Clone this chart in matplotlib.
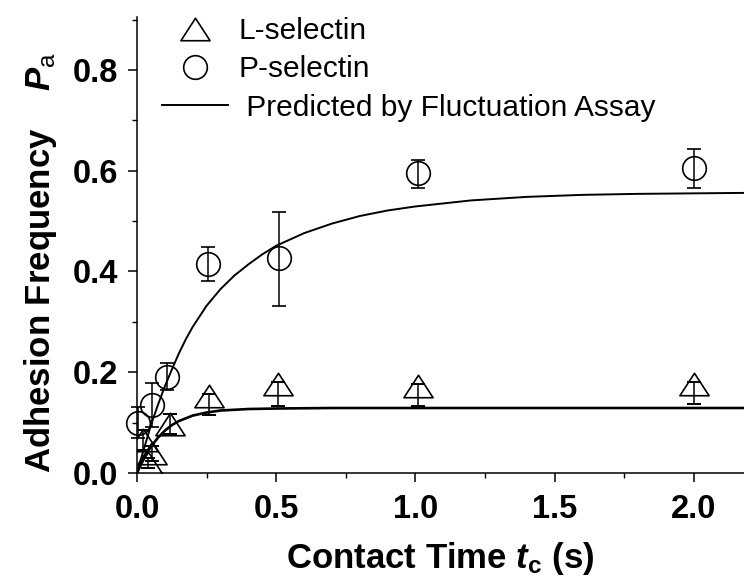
import matplotlib
matplotlib.use("Agg")
import matplotlib.pyplot as plt
from matplotlib.lines import Line2D
from matplotlib.path import Path
from matplotlib.ticker import MultipleLocator

plt.rcParams['font.family'] = ['Liberation Sans', 'DejaVu Sans']
plt.rcParams['mathtext.fontset'] = 'custom'
plt.rcParams['mathtext.it'] = 'Liberation Sans:italic:bold'
plt.rcParams['mathtext.rm'] = 'Liberation Sans:bold'
plt.rcParams['mathtext.sf'] = 'Liberation Sans'

# ---- data ----
t_P = [0.005, 0.053, 0.107, 0.255, 0.51, 1.01, 2.0]
P_sel = [0.10, 0.135, 0.191, 0.415, 0.426, 0.595, 0.605]
P_err_lo = [0.03, 0.043, 0.026, 0.033, 0.094, 0.029, 0.040]
P_err_hi = [0.03, 0.044, 0.027, 0.034, 0.092, 0.026, 0.038]

t_L = [0.02, 0.04, 0.053, 0.12, 0.26, 0.507, 1.01, 2.0]
L_sel = [0.065, 0.019, 0.039, 0.098, 0.153, 0.176, 0.172, 0.176]
L_err_lo = [0.02, 0.01, 0.015, 0.02, 0.037, 0.043, 0.039, 0.039]
L_err_hi = [0.02, 0.01, 0.015, 0.02, 0.004, 0.004, 0.004, 0.004]

fitP_t = [0, 0.01, 0.025, 0.05, 0.075, 0.1, 0.125, 0.15, 0.175, 0.2, 0.25, 0.3,
          0.35, 0.4, 0.45, 0.5, 0.6, 0.7, 0.8, 0.9, 1.0, 1.2, 1.4, 1.6, 1.8, 2.0, 2.2]
fitP = [0, 0.02, 0.048, 0.095, 0.135, 0.172, 0.205, 0.237, 0.265, 0.29, 0.332, 0.365,
        0.392, 0.414, 0.434, 0.451, 0.476, 0.495, 0.51, 0.521, 0.529, 0.541, 0.548,
        0.552, 0.554, 0.555, 0.556]

fitL_t = [0, 0.01, 0.025, 0.05, 0.075, 0.1, 0.125, 0.15, 0.2, 0.25, 0.3, 0.4, 0.5,
          0.7, 1.0, 2.2]
fitL = [0, 0.012, 0.029, 0.052, 0.07, 0.084, 0.095, 0.103, 0.114, 0.12, 0.124,
        0.127, 0.128, 0.129, 0.129, 0.129]

x_ticks = [0.0, 0.5, 1.0, 1.5, 2.0]
y_ticks = [0.0, 0.2, 0.4, 0.6, 0.8]

# ---- figure ----
fig = plt.figure(figsize=(7.44, 5.83), dpi=100)
ax = fig.add_axes([137/744, 110/583, 1 - 137/744, (473 - 17)/583])

tri = Path([(0, 0.77), (-1, -0.77), (1, -0.77), (0, 0.77)],
           [Path.MOVETO, Path.LINETO, Path.LINETO, Path.CLOSEPOLY])

ax.plot(fitP_t, fitP, color='black', lw=1.4, zorder=2)
ax.plot(fitL_t, fitL, color='black', lw=1.9, zorder=2)

ax.errorbar(t_P, P_sel, yerr=[P_err_lo, P_err_hi], fmt='o', ms=17, mfc='none',
            mec='black', mew=1.2, ecolor='black', elinewidth=1.1, capsize=5,
            capthick=1.4, clip_on=False, zorder=3)
ax.errorbar(t_L, L_sel, yerr=[L_err_lo, L_err_hi], fmt='none', ecolor='black',
            elinewidth=1.1, capsize=5, capthick=1.4, zorder=3)
ax.plot(t_L, L_sel, ls='none', marker=tri, ms=21, mfc='none', mec='black',
        mew=1.2, zorder=3)

ax.set_xlim(0, 2.18)
ax.set_ylim(0, 0.905)
ax.set_xticks(x_ticks)
ax.set_yticks(y_ticks)
ax.set_xticklabels([f"{v:.1f}" for v in x_ticks])
ax.set_yticklabels([f"{v:.1f}" for v in y_ticks])
ax.xaxis.set_minor_locator(MultipleLocator(0.25))
ax.yaxis.set_minor_locator(MultipleLocator(0.1))
ax.tick_params(which='major', direction='out', length=6.5, width=1.1,
               labelsize=23.5)
ax.tick_params(which='minor', direction='out', length=3.6, width=1.0)
ax.tick_params(axis='x', pad=8.5)
ax.tick_params(axis='y', pad=7)
for lab in ax.get_xticklabels() + ax.get_yticklabels():
    lab.set_fontweight('bold')
for s in ['top', 'right']:
    ax.spines[s].set_visible(False)
for s in ['left', 'bottom']:
    ax.spines[s].set_linewidth(1.1)

fig.text(0.5 * (137 + 744) / 744, 15/583, r"Contact Time $t_{\mathrm{c}}$ (s)",
         ha='center', va='baseline', fontsize=25, fontweight='bold')
fig.text(41/744, 110/583, r"Adhesion Frequency    $P_{\mathsf{a}}$",
         rotation=90, ha='center', va='bottom', fontsize=25, fontweight='bold')

handles = [
    Line2D([], [], ls='none', marker=tri, ms=21, mfc='none', mec='black', mew=1.2),
    Line2D([], [], ls='none', marker='o', ms=17, mfc='none', mec='black', mew=1.2),
    Line2D([], [], color='black', lw=1.4),
]
labels = ["L-selectin", "P-selectin", " Predicted by Fluctuation Assay"]
ax.legend(handles, labels, loc='upper left', bbox_to_anchor=(25/607, 1.0),
          frameon=False, fontsize=21.5, handlelength=2.22, handletextpad=0.33,
          borderpad=0, borderaxespad=0, labelspacing=0.35, numpoints=1)

fig.savefig("out.png", dpi=100)
